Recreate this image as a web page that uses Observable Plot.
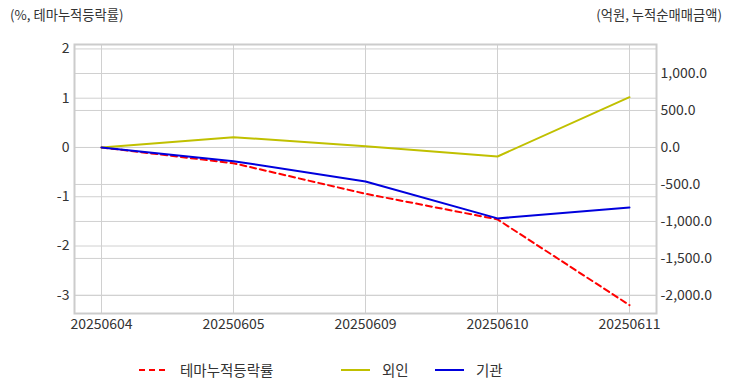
<!DOCTYPE html>
<html>
<head>
<meta charset="utf-8">
<script src="https://cdn.jsdelivr.net/npm/d3@7"></script>
<script src="https://cdn.jsdelivr.net/npm/@observablehq/plot@0.6"></script>
<style>
  html, body { margin: 0; padding: 0; background: #fff; }
  body { width: 732px; height: 392px; position: relative; overflow: hidden;
         font-family: "Noto Sans CJK KR", "Noto Sans", sans-serif; color: #333; }
  .ttl { position: absolute; top: 5px; font-size: 13.3px; color: #333; }
  #chart { position: absolute; left: 0; top: 0; }
  .leg { position: absolute; top: 359px; font-size: 14.5px; color: #333; display: flex; align-items: center; }
  .leg svg { margin-right: 12px; }
</style>
</head>
<body>
<div class="ttl" style="left:10px">(%, 테마누적등락률)</div>
<div class="ttl" style="right:10px">(억원, 누적순매매금액)</div>
<div id="chart"></div>
<div id="legend"></div>
<script>
const dates = ["20250604", "20250605", "20250609", "20250610", "20250611"];
const themeRate = [0, -0.32, -0.94, -1.46, -3.2];      // % (left axis)
const foreign = [0, 139, 18, -122, 680];                // 억원 (right axis)
const institution = [0, -185, -459, -959, -811];        // 억원 (right axis)
const leftTicks = [-3, -2, -1, 0, 1, 2];
const rightTicks = [-2000, -1500, -1000, -500, 0, 500, 1000];
const seriesNames = ["테마누적등락률", "외인", "기관"];
const seriesColors = ["#ff0000", "#c0c000", "#0000dd"];

const K = 666; // 억원 per 1% so both zeros align
const rows = dates.map((d, i) => ({
  date: d,
  theme: themeRate[i],
  foreign: foreign[i] / K,
  inst: institution[i] / K
}));
const locale = d3.formatLocale({ decimal: ".", thousands: ",", grouping: [3], currency: ["", ""], minus: "-" });
const fmtL = locale.format("d");
const fmtR = locale.format(",.1f");
const gridColor = "#d0d0d0";

const chart = Plot.plot({
  width: 732,
  height: 340,
  marginLeft: 74,
  marginRight: 76,
  marginTop: 44,
  marginBottom: 27,
  style: { fontFamily: "'Noto Sans CJK KR', 'Noto Sans', sans-serif", fontSize: "14px", color: "#333", background: "transparent" },
  x: { type: "point", domain: dates, padding: 0.2, label: null },
  y: { domain: [-3.37, 2.09], label: null },
  marks: [
    Plot.gridY(leftTicks, { stroke: gridColor, strokeOpacity: 1 }),
    Plot.gridY(rightTicks.map(v => v / K), { stroke: gridColor, strokeOpacity: 1 }),
    Plot.gridX(dates, { stroke: gridColor, strokeOpacity: 1 }),
    Plot.frame({ stroke: "#cccccc", strokeWidth: 2 }),
    Plot.axisY(leftTicks, { anchor: "left", tickSize: 0, tickPadding: 5, label: null, tickFormat: d => fmtL(d) }),
    Plot.axisY(rightTicks.map(v => v / K), { anchor: "right", tickSize: 0, tickPadding: 4, label: null, tickFormat: d => fmtR(Math.round(d * K)) }),
    Plot.axisX(dates, { tickSize: 0, tickPadding: 6, label: null }),
    Plot.line(rows, { x: "date", y: "theme", stroke: seriesColors[0], strokeWidth: 2, strokeDasharray: "6,4" }),
    Plot.line(rows, { x: "date", y: "foreign", stroke: seriesColors[1], strokeWidth: 2 }),
    Plot.line(rows, { x: "date", y: "inst", stroke: seriesColors[2], strokeWidth: 2 })
  ]
});
document.getElementById("chart").appendChild(chart);

// legend
const legPos = [139, 341, 435];
const legend = document.getElementById("legend");
seriesNames.forEach((name, i) => {
  const div = document.createElement("div");
  div.className = "leg";
  div.style.left = legPos[i] + "px";
  const dash = i === 0 ? 'stroke-dasharray="6,4"' : "";
  div.innerHTML = `<svg width="29" height="20"><line x1="0" y1="10" x2="29" y2="10" stroke="${seriesColors[i]}" stroke-width="2" ${dash}/></svg><span>${name}</span>`;
  legend.appendChild(div);
});
</script>
</body>
</html>
